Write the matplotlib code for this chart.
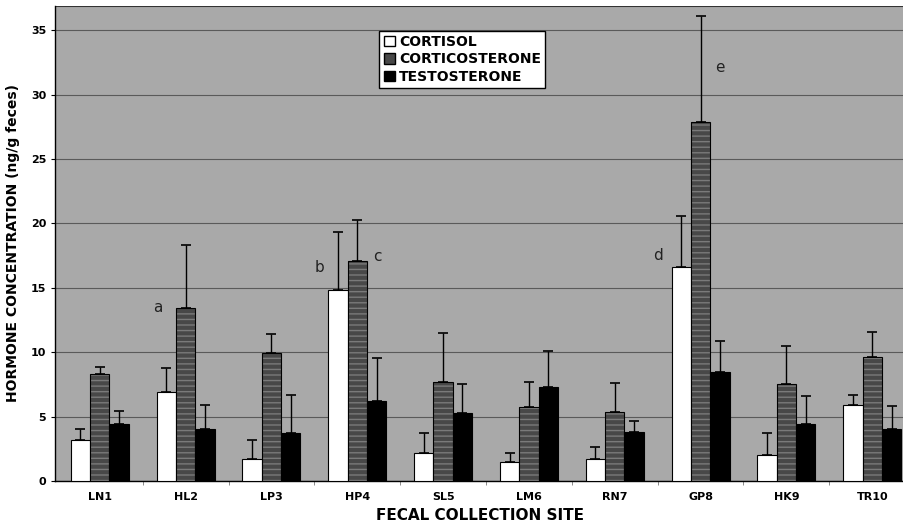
import numpy as np
import matplotlib
matplotlib.use('Agg')
import matplotlib.pyplot as plt
import matplotlib.patches as mpatches

sites = ['LN1', 'HL2', 'LP3', 'HP4', 'SL5', 'LM6', 'RN7', 'GP8', 'HK9', 'TR10']

cortisol = [3.2, 6.9, 1.7, 14.8, 2.15, 1.45, 1.7, 16.6, 2.0, 5.9]
cortisol_err = [0.8, 1.9, 1.5, 4.5, 1.55, 0.7, 0.9, 3.95, 1.75, 0.8]

corticosterone = [8.3, 13.45, 9.9, 17.1, 7.7, 5.75, 5.35, 27.85, 7.55, 9.65]
corticosterone_err = [0.55, 4.85, 1.5, 3.2, 3.8, 1.95, 2.25, 8.25, 2.95, 1.95]

testosterone = [4.4, 4.05, 3.75, 6.2, 5.3, 7.3, 3.8, 8.45, 4.45, 4.05]
testosterone_err = [1.05, 1.85, 2.95, 3.35, 2.2, 2.8, 0.85, 2.45, 2.15, 1.8]

# letters marking significant differences
notes = ['a', 'b', 'c', 'd', 'e']
note_x = [0.68, 2.56, 3.23, 6.50, 7.23]
note_y = [13.5, 16.6, 17.4, 17.5, 32.1]

fig = plt.figure(figsize=(9.04, 5.30), dpi=100)
ax = fig.add_axes([0.061, 0.0925, 0.939, 0.8965])
ax.set_facecolor('#a9a9a9')

x = np.arange(len(sites))
w = 0.225
off = 0.225

ax.bar(x - off, cortisol, w, color='white', edgecolor='black', linewidth=0.8, zorder=3)
ax.bar(x, corticosterone, w, color='#484848', edgecolor='#7a7a7a', hatch='---',
       linewidth=0, zorder=3)
ax.bar(x, corticosterone, w, fill=False, edgecolor='black', linewidth=0.8, zorder=3)
ax.bar(x + off, testosterone, w, color='black', edgecolor='black', linewidth=0.8, zorder=3)

# error bars only upward
for xs, vals, errs in [(x - off, cortisol, cortisol_err),
                       (x, corticosterone, corticosterone_err),
                       (x + off, testosterone, testosterone_err)]:
    ax.errorbar(xs, vals, yerr=[np.zeros(len(errs)), errs], fmt='none',
                ecolor='black', elinewidth=1.0, capsize=3.5, capthick=1.2, zorder=2)

for t, nx, ny in zip(notes, note_x, note_y):
    ax.text(nx, ny, t, fontsize=11, ha='center', va='center', color='#222222')

ax.set_xlim(-0.52, 9.37)
ax.set_ylim(0, 36.9)
ax.set_yticks(np.arange(0, 36, 5))
ax.yaxis.grid(True, color='#5a5a5a', linewidth=0.8, zorder=0)
ax.set_axisbelow(True)

ax.set_xticks(x)
ax.set_xticklabels(sites, fontsize=8, fontweight='bold')
ax.tick_params(axis='x', length=0, pad=8)
ax.set_xticks(x[:-1] + 0.5, minor=True)
ax.tick_params(axis='x', which='minor', length=3, direction='out', color='#777777')
ax.tick_params(axis='y', labelsize=8, length=3)
for lb in ax.get_yticklabels():
    lb.set_fontweight('bold')

for s in ['top', 'right']:
    ax.spines[s].set_visible(False)
ax.spines['left'].set_linewidth(1.0)
ax.spines['bottom'].set_linewidth(1.0)
ax.axhline(36.9, color='#333333', linewidth=1.5, zorder=1)

ax.set_xlabel('FECAL COLLECTION SITE', fontsize=11, fontweight='bold', labelpad=4)
ax.set_ylabel('HORMONE CONCENTRATION (ng/g feces)', fontsize=10, fontweight='bold', labelpad=8)

handles = [mpatches.Patch(facecolor='white', edgecolor='black', label='CORTISOL'),
           mpatches.Patch(facecolor='#484848', edgecolor='black', label='CORTICOSTERONE'),
           mpatches.Patch(facecolor='black', edgecolor='black', label='TESTOSTERONE')]
leg = ax.legend(handles=handles, loc='upper left', bbox_to_anchor=(0.382, 0.948),
                fancybox=False, framealpha=1, edgecolor='black',
                prop={'weight': 'bold', 'size': 10}, handlelength=0.8, handleheight=0.8,
                handletextpad=0.3, borderpad=0.3, labelspacing=0.25, borderaxespad=0)
leg.get_frame().set_linewidth(1.0)

fig.savefig('out.png', dpi=100, facecolor='white')
